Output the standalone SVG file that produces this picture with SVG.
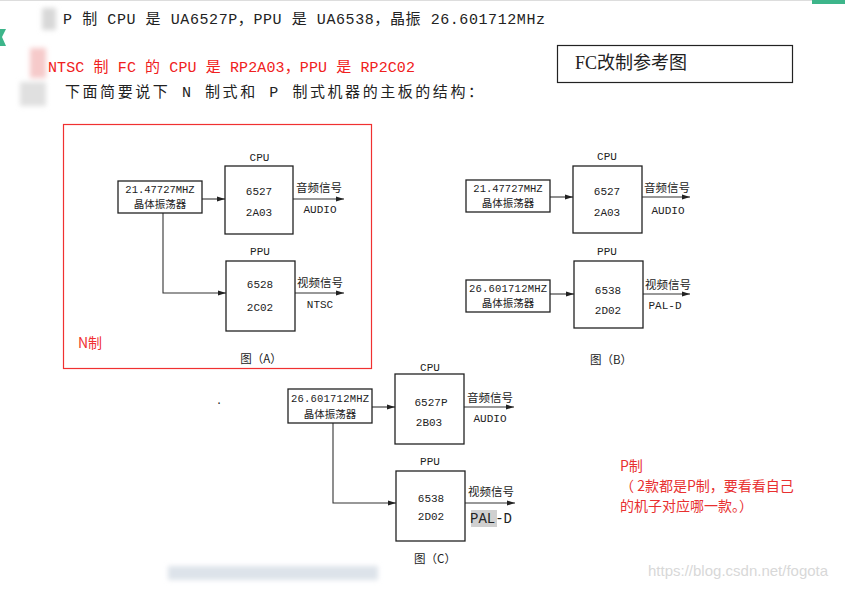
<svg xmlns="http://www.w3.org/2000/svg" width="845" height="589" viewBox="0 0 845 589">
<defs>
<marker id="ah" markerUnits="userSpaceOnUse" markerWidth="9" markerHeight="6" refX="8" refY="3" orient="auto"><path d="M0,0.5 L8,3 L0,5.5 Z" fill="#222"/></marker>
<filter id="bl"><feGaussianBlur stdDeviation="2.5"/></filter>
<style>
.bx{fill:#fff;stroke:#222;stroke-width:1.3}
.ln{fill:none;stroke:#333;stroke-width:1.1}
.t{font-family:"Liberation Mono","Noto Sans CJK SC",monospace;font-size:11px;fill:#222;text-anchor:middle}
.k{font-family:"Liberation Mono",monospace;font-size:10.5px;fill:#222;text-anchor:middle}
.c{font-family:"Noto Sans CJK SC",sans-serif;font-size:11.5px;fill:#222;text-anchor:middle}
.cs{font-family:"Noto Sans CJK SC",sans-serif;font-size:10.5px;fill:#222;text-anchor:middle}
.h{font-family:"Liberation Mono","Noto Sans CJK SC",monospace;font-size:15px;fill:#222}
.r{font-family:"Noto Sans CJK SC",sans-serif;font-size:14px;fill:#e83030}
</style>
</defs>
<rect width="845" height="589" fill="#fff"/>
<line x1="0" y1="0.5" x2="812" y2="0.5" stroke="#ddd"/>
<rect x="812" y="0" width="33" height="4" fill="#3db58a"/>
<path d="M0,29 L6,29 L2,37 L6,46 L0,46 Z" fill="#3db58a"/>
<g filter="url(#bl)">
<rect x="42" y="8" width="14" height="22" fill="#d8d8d8"/>
<rect x="30" y="48" width="16" height="30" fill="#f6caca"/>
<rect x="20" y="82" width="26" height="24" fill="#e0e0e0"/>
<rect x="168" y="566" width="210" height="14" fill="#dde3ea"/>
</g>
<g id="header">
<text class="h" x="63" y="24" textLength="482">P 制 CPU 是 UA6527P，PPU 是 UA6538，晶振 26.601712MHz</text>
<text class="h" x="48" y="72" textLength="367" style="fill:#f02020">NTSC 制 FC 的 CPU 是 RP2A03，PPU 是 RP2C02</text>
<text class="h" x="65" y="97" textLength="418">下面简要说下 N 制式和 P 制式机器的主板的结构：</text>
</g>
<g id="title">
<rect x="557.5" y="45.5" width="235" height="37" fill="#fff" stroke="#222" stroke-width="1.2"/>
<text x="575" y="69" style="font-family:'Liberation Serif','Noto Sans CJK SC',serif;font-size:18px;fill:#222">FC改制参考图</text>
</g>
<rect x="63.5" y="124.5" width="308" height="244" fill="none" stroke="#f03030" stroke-width="1.2"/>
<g id="connectors">
<line class="ln" x1="202" y1="199" x2="225" y2="199" marker-end="url(#ah)"/>
<line class="ln" x1="293" y1="199" x2="344" y2="199" marker-end="url(#ah)"/>
<path class="ln" d="M163,213 V293 H226" marker-end="url(#ah)"/>
<line class="ln" x1="295" y1="293" x2="344" y2="293" marker-end="url(#ah)"/>
<line class="ln" x1="550" y1="197" x2="573" y2="197" marker-end="url(#ah)"/>
<line class="ln" x1="642" y1="197" x2="690" y2="197" marker-end="url(#ah)"/>
<line class="ln" x1="550" y1="294" x2="574" y2="294" marker-end="url(#ah)"/>
<line class="ln" x1="643" y1="294" x2="690" y2="294" marker-end="url(#ah)"/>
<line class="ln" x1="372" y1="407" x2="395" y2="407" marker-end="url(#ah)"/>
<line class="ln" x1="464" y1="407" x2="514" y2="407" marker-end="url(#ah)"/>
<path class="ln" d="M333,423 V503 H396" marker-end="url(#ah)"/>
<line class="ln" x1="465" y1="503" x2="515" y2="503" marker-end="url(#ah)"/>
</g>
<g id="crystalA">
<rect class="bx" x="118" y="181" width="84" height="32"/>
<text class="k" x="160" y="193">21.47727MHZ</text>
<text class="cs" x="160" y="208">晶体振荡器</text>
</g>
<g id="cpuA">
<text class="t" x="259.5" y="161">CPU</text>
<rect class="bx" x="225" y="166" width="68" height="68"/>
<text class="t" x="259" y="195">6527</text>
<text class="t" x="259" y="216">2A03</text>
<text class="c" x="319" y="192">音频信号</text>
<text class="t" x="320" y="213">AUDIO</text>
</g>
<g id="ppuA">
<text class="t" x="260" y="255">PPU</text>
<rect class="bx" x="226" y="261" width="69" height="70"/>
<text class="t" x="260" y="288">6528</text>
<text class="t" x="260" y="311">2C02</text>
<text class="c" x="320" y="287">视频信号</text>
<text class="t" x="320" y="308">NTSC</text>
</g>
<text x="78" y="348" style="font-family:'Noto Sans CJK SC',sans-serif;font-size:14px;fill:#f03030">N制</text>
<text class="c" x="261" y="363">图（A）</text>
<g id="crystalB1">
<rect class="bx" x="466" y="180" width="84" height="32"/>
<text class="k" x="508" y="192">21.47727MHZ</text>
<text class="cs" x="508" y="207">晶体振荡器</text>
</g>
<g id="cpuB">
<text class="t" x="607" y="160">CPU</text>
<rect class="bx" x="573" y="166" width="69" height="67"/>
<text class="t" x="607" y="195">6527</text>
<text class="t" x="607" y="216">2A03</text>
<text class="c" x="667" y="192">音频信号</text>
<text class="t" x="668" y="214">AUDIO</text>
</g>
<g id="crystalB2">
<rect class="bx" x="466" y="280" width="84" height="32"/>
<text class="k" x="508" y="292" textLength="78">26.601712MHZ</text>
<text class="cs" x="508" y="307">晶体振荡器</text>
</g>
<g id="ppuB">
<text class="t" x="607" y="255">PPU</text>
<rect class="bx" x="574" y="261" width="69" height="67"/>
<text class="t" x="608" y="294">6538</text>
<text class="t" x="608" y="314">2D02</text>
<text class="c" x="668" y="289">视频信号</text>
<text class="t" x="665" y="309">PAL-D</text>
</g>
<text class="c" x="611" y="364">图（B）</text>
<text class="t" x="219" y="404">.</text>
<g id="crystalC">
<rect class="bx" x="288" y="389" width="84" height="34"/>
<text class="k" x="330" y="402" textLength="78">26.601712MHZ</text>
<text class="cs" x="330" y="418">晶体振荡器</text>
</g>
<g id="cpuC">
<text class="t" x="430" y="371">CPU</text>
<rect class="bx" x="395" y="374" width="69" height="70"/>
<text class="t" x="431" y="406">6527P</text>
<text class="t" x="429" y="426">2B03</text>
<text class="c" x="490" y="402">音频信号</text>
<text class="t" x="490" y="422">AUDIO</text>
</g>
<g id="ppuC">
<text class="t" x="430" y="465">PPU</text>
<rect class="bx" x="396" y="471" width="69" height="70"/>
<text class="t" x="431" y="502">6538</text>
<text class="t" x="431" y="520">2D02</text>
<text class="c" x="491" y="496">视频信号</text>
<rect x="471" y="510" width="26" height="17" fill="#d0d0d0"/>
<text class="t" x="491" y="523" style="font-size:14px">PAL-D</text>
</g>
<text class="c" x="435" y="563">图（C）</text>
<g id="note">
<text class="r" x="620" y="471">P制</text>
<text class="r" x="620" y="491">（ 2款都是P制，要看看自己</text>
<text class="r" x="620" y="511">的机子对应哪一款。）</text>
</g>
<text x="648" y="576" style="font-family:'Liberation Sans',Arial,sans-serif;font-size:15px;fill:#d8d8d8">https://blog.csdn.net/fogota</text>
</svg>
